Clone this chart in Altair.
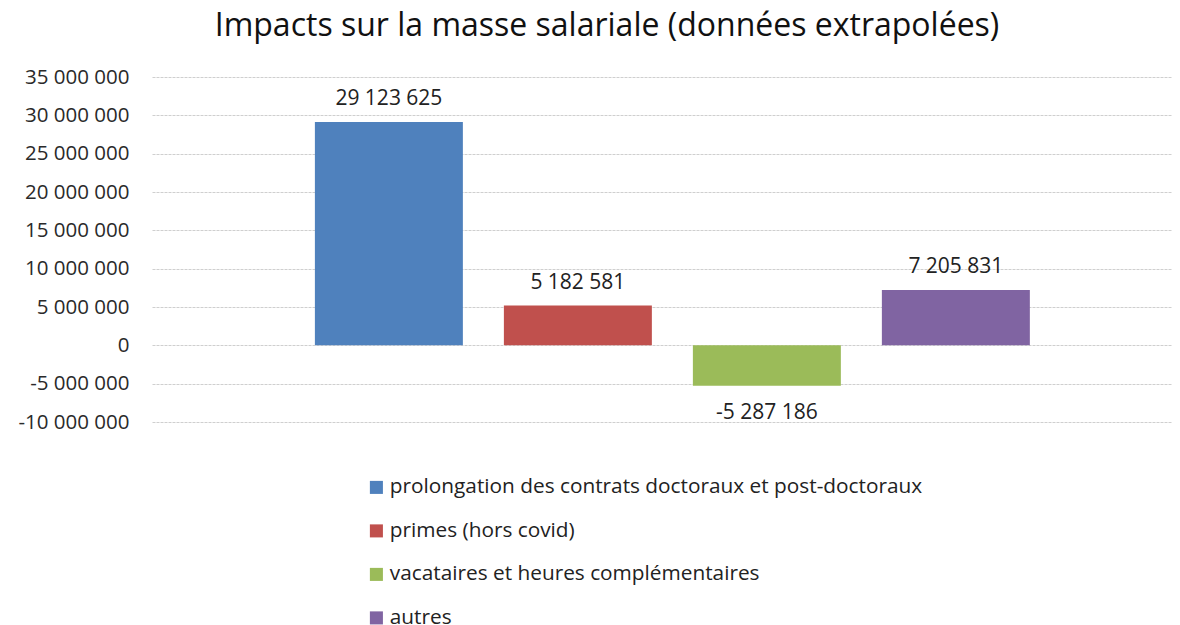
import altair as alt
import pandas as pd

categories = [
    "prolongation des contrats doctoraux et post-doctoraux",
    "primes (hors covid)",
    "vacataires et heures complémentaires",
    "autres",
]
values = [29123625, 5182581, -5287186, 7205831]
colors = ["#4F81BD", "#C0504D", "#9BBB59", "#8064A2"]
y_ticks = [-10000000, -5000000, 0, 5000000, 10000000, 15000000, 20000000, 25000000, 30000000, 35000000]

df = pd.DataFrame({"cat": categories, "v": values})

FONT = "Open Sans"
fmt = "replace(replace(format(%s, ',d'), /,/g, ' '), '\u2212', '-')"

x = alt.X("cat:N", sort=categories, axis=None,
          scale=alt.Scale(paddingInner=0.217, paddingOuter=0.807, align=0.534))
y = alt.Y("v:Q", title=None,
          scale=alt.Scale(domain=[-10000000, 35000000], nice=False, zero=False),
          axis=alt.Axis(values=y_ticks, labelExpr=fmt % "datum.value",
                        labelFont=FONT, labelFontSize=20.5, labelColor="#2a2a2a",
                        labelPadding=23, domain=False, ticks=False,
                        grid=True, gridColor="#cfcfcf", gridDash=[3, 1], gridWidth=1))

base = alt.Chart(df).encode(x=x, y=y)

bars = base.mark_bar().encode(
    color=alt.Color("cat:N", sort=categories,
                    scale=alt.Scale(domain=categories, range=colors),
                    legend=alt.Legend(title=None, orient="none", legendX=214, legendY=400,
                                      direction="vertical", symbolType="square",
                                      symbolSize=170, symbolStrokeWidth=0,
                                      labelFont=FONT, labelFontSize=20.8, labelColor="#222222",
                                      rowPadding=21.5, labelLimit=700, symbolOffset=0,
                                      labelOffset=3)),
)

labels_pos = base.transform_filter("datum.v >= 0").transform_calculate(
    label=fmt % "datum.v"
).mark_text(font=FONT, fontSize=21, color="#222222", dy=-23).encode(text="label:N")

labels_neg = base.transform_filter("datum.v < 0").transform_calculate(
    label=fmt % "datum.v"
).mark_text(font=FONT, fontSize=21, color="#222222", dy=27).encode(text="label:N")

chart = alt.layer(bars, labels_pos, labels_neg).properties(
    width=1020, height=345,
    autosize=alt.AutoSizeParams(type="none"),
    padding={"left": 144, "top": 69, "right": 0, "bottom": 212},
    title=alt.TitleParams("Impacts sur la masse salariale (données extrapolées)",
                          font=FONT, fontSize=32, fontWeight="normal", color="#111111",
                          anchor="middle", dx=-55, offset=24),
).configure_view(stroke=None)

chart.save("out.html", embed_options={"renderer": "svg", "actions": False})
